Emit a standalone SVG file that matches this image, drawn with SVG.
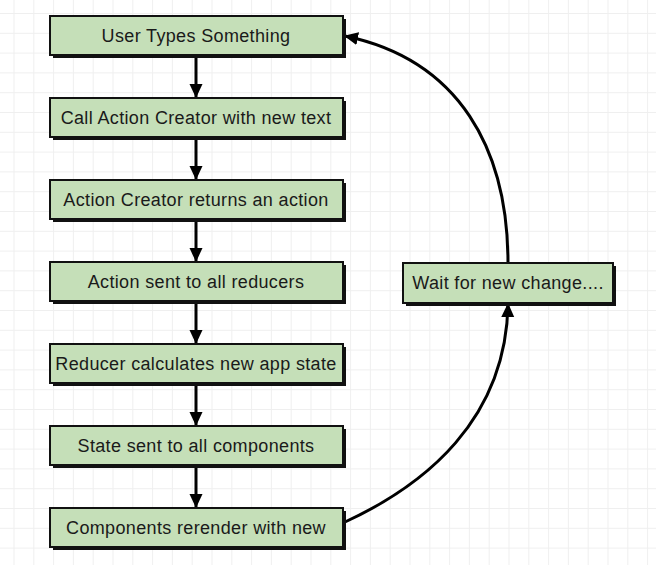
<svg xmlns="http://www.w3.org/2000/svg" width="656" height="565" viewBox="0 0 656 565">
<style>
.box{fill:#c5dfb8;stroke:#111;stroke-width:2}
.sh{fill:#111}
.t{font-family:"Liberation Sans",Arial,sans-serif;font-size:18px;letter-spacing:0.35px;fill:#1a1a1a;text-anchor:middle;dominant-baseline:central}
.c{fill:none;stroke:#000;stroke-width:3}
</style>
<defs>
<pattern id="grid" patternUnits="userSpaceOnUse" x="13.5" y="13" width="19.8" height="19.8">
<path d="M0.5,0V19.8M0,0.5H19.8" stroke="#efefef" stroke-width="1" fill="none"/>
</pattern>
<marker id="ah" markerUnits="userSpaceOnUse" viewBox="0 0 14 14" refX="13" refY="7" markerWidth="14" markerHeight="14" orient="auto">
<path d="M0,0.5L14,7L0,13.5Z" fill="#000"/>
</marker>
</defs>
<rect width="656" height="565" fill="#fff"/>
<rect width="656" height="565" fill="url(#grid)"/>
<g id="connectors">
<path class="c" d="M196,56V97" marker-end="url(#ah)"/>
<path class="c" d="M196,138V179" marker-end="url(#ah)"/>
<path class="c" d="M196,220V261" marker-end="url(#ah)"/>
<path class="c" d="M196,302V343" marker-end="url(#ah)"/>
<path class="c" d="M196,384V425" marker-end="url(#ah)"/>
<path class="c" d="M196,466V507" marker-end="url(#ah)"/>
<path class="c" d="M345,522C425,485 506,420 508,304" marker-end="url(#ah)"/>
<path class="c" d="M508,263C508,150 460,60 345,36" marker-end="url(#ah)"/>
</g>
<g id="n1"><rect class="sh" x="53" y="19" width="293" height="39"/><rect class="box" x="50" y="16" width="293" height="39"/><text class="t" x="196" y="36">User Types Something</text></g>
<g id="n2"><rect class="sh" x="53" y="101" width="293" height="39"/><rect class="box" x="50" y="98" width="293" height="39"/><text class="t" x="196" y="118">Call Action Creator with new text</text></g>
<g id="n3"><rect class="sh" x="53" y="183" width="293" height="39"/><rect class="box" x="50" y="180" width="293" height="39"/><text class="t" x="196" y="200">Action Creator returns an action</text></g>
<g id="n4"><rect class="sh" x="53" y="265" width="293" height="39"/><rect class="box" x="50" y="262" width="293" height="39"/><text class="t" x="196" y="282">Action sent to all reducers</text></g>
<g id="n5"><rect class="sh" x="53" y="347" width="293" height="39"/><rect class="box" x="50" y="344" width="293" height="39"/><text class="t" x="196" y="364">Reducer calculates new app state</text></g>
<g id="n6"><rect class="sh" x="53" y="429" width="293" height="39"/><rect class="box" x="50" y="426" width="293" height="39"/><text class="t" x="196" y="446">State sent to all components</text></g>
<g id="n7"><rect class="sh" x="53" y="511" width="293" height="39"/><rect class="box" x="50" y="508" width="293" height="39"/><text class="t" x="196" y="528">Components rerender with new</text></g>
<g id="n8"><rect class="sh" x="406" y="266" width="210" height="40"/><rect class="box" x="403" y="263" width="210" height="40"/><text class="t" x="508" y="283">Wait for new change....</text></g>
</svg>
